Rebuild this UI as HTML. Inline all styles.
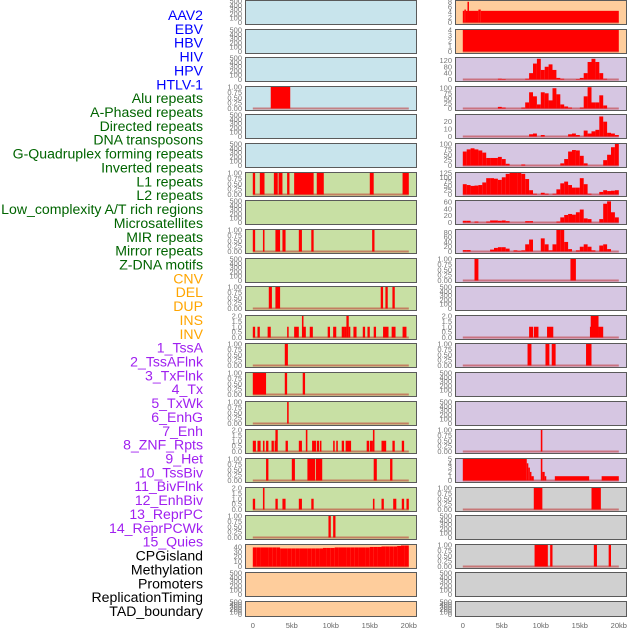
<!DOCTYPE html>
<html><head><meta charset="utf-8">
<style>
html,body{margin:0;padding:0;background:#fff;}
svg{display:block;font-family:"Liberation Sans",sans-serif;}
</style></head>
<body>
<svg id="chart" width="630" height="630" viewBox="0 0 630 630" xmlns="http://www.w3.org/2000/svg"></svg>
<script>
const trackLabels = ["AAV2","EBV","HBV","HIV","HPV","HTLV-1","Alu repeats","A-Phased repeats","Directed repeats","DNA transposons","G-Quadruplex forming repeats","Inverted repeats","L1 repeats","L2 repeats","Low_complexity A/T rich regions","Microsatellites","MIR repeats","Mirror repeats","Z-DNA motifs","CNV","DEL","DUP","INS","INV","1_TssA","2_TssAFlnk","3_TxFlnk","4_Tx","5_TxWk","6_EnhG","7_Enh","8_ZNF_Rpts","9_Het","10_TssBiv","11_BivFlnk","12_EnhBiv","13_ReprPC","14_ReprPCWk","15_Quies","CPGisland","Methylation","Promoters","ReplicationTiming","TAD_boundary"];
const labelColors = ["#0000ff","#0000ff","#0000ff","#0000ff","#0000ff","#0000ff","#006400","#006400","#006400","#006400","#006400","#006400","#006400","#006400","#006400","#006400","#006400","#006400","#006400","#ffa500","#ffa500","#ffa500","#ffa500","#ffa500","#a020f0","#a020f0","#a020f0","#a020f0","#a020f0","#a020f0","#a020f0","#a020f0","#a020f0","#a020f0","#a020f0","#a020f0","#a020f0","#a020f0","#a020f0","#000","#000","#000","#000","#000"];
const xTickValues = [0,5,10,15,20];
const xTickLabels = ["0","5kb","10kb","15kb","20kb"];
const emptyTicks = [0,100,200,300,400,500];
const binTicks = [0,0.25,0.5,0.75,1];
const cntTicks = [0,0.5,1,1.5,2];
const L_HIV = [[2.3,4.8,1]];
const L_row6 = [[0,0.3,1],[0.9,1.5,1],[2.7,3.2,1],[3.3,3.8,1],[4.4,4.7,1],[5.3,7.8,1],[8.2,9.1,1],[15.0,15.5,1],[19.2,20,1]];
const L_row8 = [[0,0.3,1],[1.3,1.5,1],[2.9,3.5,1],[3.8,4.2,1],[5.9,6.3,1],[7.5,7.8,1],[15.3,15.6,1]];
const L_row10 = [[2.05,2.45,1],[2.9,3.5,1],[16.4,16.7,1],[17.0,17.3,1],[17.9,18.2,1]];
const L_row11 = [[0,0.3,1],[0.6,0.9,1],[1.9,2.3,1],[4.4,4.6,1],[5.3,5.9,1],[6.3,6.5,2],[6.5,6.8,1],[7.3,7.7,1],[9.6,9.9,1],[10.3,10.7,1],[11.4,11.7,1],[11.7,12.0,1],[12.0,12.3,2],[12.3,12.5,1],[12.9,13.3,1],[14.1,14.4,1],[14.7,15.0,1],[15.5,15.8,1],[16.7,17.4,1],[17.8,18.3,1],[19.2,19.7,1]];
const L_row12 = [[4.1,4.5,1]];
const L_row13 = [[0,1.7,1],[4.1,4.4,1],[6.4,6.7,1]];
const L_row14 = [[4.4,4.6,1]];
const L_row15 = [[0,0.4,1],[0.6,1.0,1],[1.3,1.5,1],[1.7,2.0,1],[2.4,2.7,1],[2.8,2.9,1],[2.9,3.2,2],[4.2,4.5,1],[5.9,6.3,1],[6.8,7.0,2],[7.6,8.1,1],[8.2,8.5,1],[8.6,8.8,1],[10.3,10.5,1],[10.7,10.9,1],[11.4,11.7,1],[11.9,12.6,1],[14.6,14.9,1],[15.0,15.4,1],[15.4,15.6,2],[16.5,17.1,1],[17.9,18.2,1],[19.1,19.4,1]];
const L_row16 = [[1.7,2.0,1],[5.0,5.4,1],[7.0,8.0,1],[8.1,8.9,1],[15.5,15.9,1],[17.6,17.9,1]];
const L_row17 = [[0,0.3,1],[1.3,1.5,2],[2.9,3.2,1],[3.8,4.2,1],[5.9,6.3,1],[7.5,7.8,1],[15.4,15.6,1],[16.5,16.8,1],[18.0,18.4,1],[19.1,19.4,1],[19.7,20,1]];
const L_row18 = [[9.7,10.0,1],[10.3,10.6,1]];
const L_cpgBins = [39,39,39,39,39,39,39,37,37,37,37,37,37,37,37,37,37,37,38,38,38,39,39,39,39,39,39,39,39,39,40,40,40,41,41,41,41,42,43,43];
const R_row0 = [[0,0.2,4.5],[0.2,0.4,5],[0.4,0.6,4.5],[0.6,0.75,8],[0.75,2,4.5],[2,2.3,5],[2.3,20,4.5]];
const R_row1 = [[0,20,4]];
const R_row2Bins = [0,0,0,0,0,0,0,0,0,5,3,0,0,0,0,0,5,40,100,130,60,80,95,60,10,5,0,0,0,3,10,40,110,130,110,40,5,0,0,0];
const R_row3Bins = [0,0,0,0,0,0,0,0,0,8,5,0,0,0,0,5,30,80,60,20,80,75,40,100,70,20,10,5,0,0,5,60,105,30,30,65,15,0,0,0];
const R_row4Bins = [0,0,0,0,0,0,0,0,0,0,0,0,0,0,0,0,0,3,4,0,2,0,0,0,0,0,0,3,4,2,0,8,4,7,9,27,20,5,4,2];
const R_row5Bins = [65,75,80,75,70,60,35,35,35,40,30,8,0,0,0,5,0,0,0,0,0,0,0,0,0,10,30,65,72,70,45,10,0,0,0,0,25,50,85,100];
const R_row6Bins = [60,55,50,52,55,70,95,95,92,85,100,120,125,125,125,120,90,25,5,0,10,5,0,5,30,65,75,55,40,40,95,60,5,0,0,15,25,20,22,25];
const R_row7Bins = [5,5,0,3,0,0,3,6,6,5,6,4,0,0,0,0,4,4,0,0,0,0,0,0,3,15,22,25,23,30,38,12,10,0,0,10,55,62,30,15];
const R_row8Bins = [6,6,0,0,0,0,0,8,15,18,18,12,0,5,3,5,30,50,0,0,55,30,5,30,90,90,40,10,0,5,20,30,20,5,0,25,30,10,0,0];
const R_row9 = [[1.5,2.0,1],[13.8,14.5,1]];
const R_row11 = [[8.5,9.0,1],[9.1,9.7,1],[10.8,11.6,1],[16.3,16.5,1],[16.4,17.4,2],[17.4,18.0,1]];
const R_row12 = [[8.3,8.8,1],[10.6,11.1,1],[11.4,11.9,1],[15.8,16.5,1]];
const R_row15 = [[10.0,10.2,1]];
const R_row16 = [[0,8.2,5],[8.2,8.4,4],[8.4,8.6,3],[8.6,8.8,2],[8.8,9.1,1],[10.0,10.2,5],[10.2,10.5,2],[10.5,10.7,1],[11.8,16.2,1],[17.8,20,1]];
const R_row17 = [[9.1,10.2,1],[16.5,17.7,1]];
const R_row19 = [[9.2,10.9,1],[11.2,11.5,1],[16.8,17.2,1],[18.7,19.0,1]];

const BLUE="#c8e4ec", GREEN="#c8e0a4", PEACH="#fecd9c", LAV="#d6c6e2", GREY="#d0d0d0";
function bins(arr){ return arr.map((v,i)=>[i*0.5,(i+1)*0.5,v]); }
const E = null;
const leftSpec = [
 [BLUE,500,emptyTicks,E],[BLUE,500,emptyTicks,E],[BLUE,500,emptyTicks,E],[BLUE,1,binTicks,L_HIV],[BLUE,500,emptyTicks,E],[BLUE,500,emptyTicks,E],
 [GREEN,1,binTicks,L_row6],[GREEN,500,emptyTicks,E],[GREEN,1,binTicks,L_row8],[GREEN,500,emptyTicks,E],[GREEN,1,binTicks,L_row10],[GREEN,2,cntTicks,L_row11],
 [GREEN,1,binTicks,L_row12],[GREEN,1,binTicks,L_row13],[GREEN,1,binTicks,L_row14],[GREEN,2,cntTicks,L_row15],[GREEN,1,binTicks,L_row16],[GREEN,2,cntTicks,L_row17],[GREEN,1,binTicks,L_row18],
 [PEACH,44,[0,10,20,30,40],bins(L_cpgBins)],[PEACH,500,emptyTicks,E],[PEACH,500,emptyTicks,E]];
const rightSpec = [
 [PEACH,8.3,[0,2,4,6,8],R_row0],[PEACH,4,[0,1,2,3,4],R_row1],
 [LAV,135,[0,40,80,120],bins(R_row2Bins)],[LAV,106,[0,25,50,75,100],bins(R_row3Bins)],[LAV,29,[0,10,20],bins(R_row4Bins)],
 [LAV,100,[0,25,50,75,100],bins(R_row5Bins)],[LAV,125,[0,25,50,75,100,125],bins(R_row6Bins)],[LAV,63,[0,20,40,60],bins(R_row7Bins)],[LAV,90,[0,20,40,60,80],bins(R_row8Bins)],
 [LAV,1,binTicks,R_row9],[LAV,500,emptyTicks,E],[LAV,2,cntTicks,R_row11],[LAV,1,binTicks,R_row12],[LAV,500,emptyTicks,E],[LAV,500,emptyTicks,E],
 [LAV,1,binTicks,R_row15],[LAV,5,[0,1,2,3,4,5],R_row16],
 [GREY,1,binTicks,R_row17],[GREY,500,emptyTicks,E],[GREY,1,binTicks,R_row19],[GREY,500,emptyTicks,E],[GREY,500,emptyTicks,E]];

const svg=document.getElementById('chart');
const NS="http://www.w3.org/2000/svg";
function mk(tag,attrs,parent){const e=document.createElementNS(NS,tag);for(const k in attrs)e.setAttribute(k,attrs[k]);(parent||svg).appendChild(e);return e;}
function fmt(t,ticks){ if(ticks===binTicks) return t.toFixed(2); if(ticks===cntTicks) return t.toFixed(1); return String(t); }

trackLabels.forEach((lab,i)=>{
  const t=mk('text',{x:203,y:(15+i*13.86+5).toFixed(1),'text-anchor':'end','font-size':'14.1',fill:labelColors[i]});
  t.textContent=lab;
  
  
});

function drawPanel(x0,top,h,spec,name){
  const [bg,ymax,ticks,segs]=spec;
  const g=mk('g',{});
  
  
  const xs=kb=>x0+7.8+kb*7.8;
  const ys=v=>top+h-1.5-v/ymax*(h-2.5);
  const r=mk('rect',{x:x0+0.5,y:top+0.5,width:171,height:h,fill:bg,stroke:'#5a5a5a','stroke-width':1},g);
  
  
  ticks.forEach(t=>{
    const tx=mk('text',{x:x0-3,y:(ys(t)+2.5).toFixed(1),'text-anchor':'end','font-size':'7.5',fill:'#777'},g);
    tx.textContent=fmt(t,ticks);
    
    
  });
  if(segs){
    const bl=mk('rect',{x:xs(0),y:ys(0)-1,width:xs(20)-xs(0),height:2,fill:'rgba(190,30,30,0.5)'},g);
    
    
    segs.forEach(s=>{
      if(s[2]<=0) return;
      const b=mk('rect',{x:xs(s[0]).toFixed(2),y:ys(s[2]).toFixed(2),width:Math.max(1.5,xs(s[1])-xs(s[0])).toFixed(2),height:(ys(0)-ys(s[2])).toFixed(2),fill:'#ff0000'},g);
      
      
    });
  }
}
for(let i=0;i<22;i++){
  const top=i<21?Math.round(i*28.62):601;
  const h=i<21?24:15;
  drawPanel(245,top,h,leftSpec[i],'left-panel-'+i);
  drawPanel(455,top,h,rightSpec[i],'right-panel-'+i);
}
[245,455].forEach((x0,c)=>{
  xTickValues.forEach((v,j)=>{
    const t=mk('text',{x:x0+7.8+v*7.8,y:628,'text-anchor':'middle','font-size':'7.5',fill:'#666'});
    t.textContent=xTickLabels[j];
    
    
  });
});
</script>
</body></html>
